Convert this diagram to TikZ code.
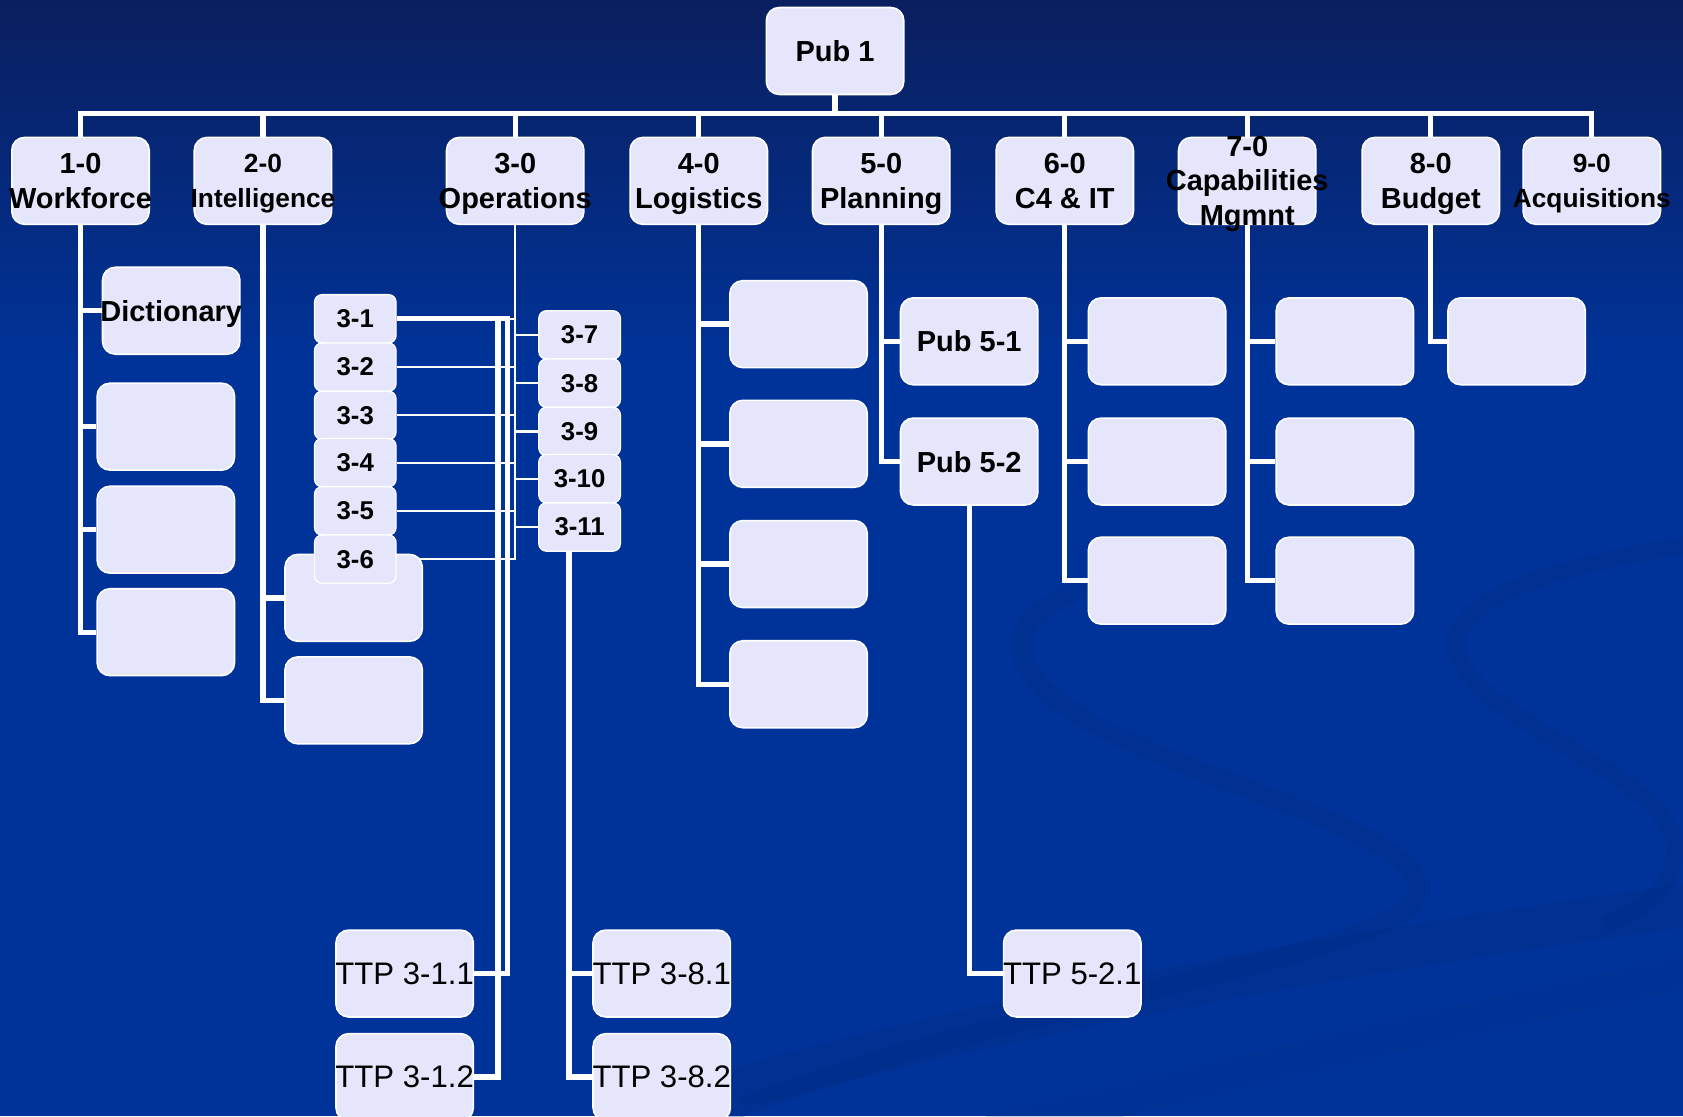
\documentclass[tikz,border=0pt]{standalone}
\usepackage{fontspec}
\setmainfont{Liberation Sans}
\usetikzlibrary{calc}
\pgfdeclarelayer{bgl}
\pgfdeclarelayer{lines}
\pgfsetlayers{bgl,lines,main}
\definecolor{bgtop}{HTML}{0A1F5E}
\definecolor{bgmain}{HTML}{003399}
\definecolor{swirl}{HTML}{002A80}
\definecolor{boxfill}{HTML}{E5E5FC}
\begin{document}
\begin{tikzpicture}[x=1pt,y=-1pt,
  box/.style={draw=white, line width=1.5pt, fill=boxfill, rounded corners=12pt,
    minimum width=128pt, minimum height=81pt, inner sep=0pt},
  sbox/.style={draw=white, line width=1.2pt, fill=boxfill, rounded corners=7pt,
    minimum width=76pt, minimum height=45pt, inner sep=0pt, text=black,
    font=\fontsize{24}{28}\selectfont\bfseries},
  lbl/.style={inner sep=0pt, align=center, text=black, text depth=0pt,
    font=\fontsize{27}{32}\selectfont\bfseries},
  slbl/.style={inner sep=0pt, align=center, text=black, text depth=0pt,
    font=\fontsize{24.5}{32}\selectfont\bfseries},
  tlbl/.style={inner sep=0pt, align=center, text=black, text depth=0pt,
    font=\fontsize{29}{34}\selectfont},
  lab/.style={label={[lbl]center:#1}},
  slab/.style={label={[slbl]center:#1}},
  tlab/.style={label={[tlbl]center:#1}},
  conn/.style={draw=white, line width=5pt},
  thinconn/.style={draw=white, line width=2pt},
  swirlband/.style={draw=swirl, line cap=round, opacity=0.3}
]
\useasboundingbox (0,0) rectangle (1568,1040);

% ---------- nodes (boxes) ----------
\node[box, lab={Pub 1}] (p1) at (778,47.5) {};
\node[box, lab={1-0\\Workforce}] (n1) at (75,168.5) {};
\node[box, slab={2-0\\Intelligence}] (n2) at (245,168.5) {};
\node[box, lab={3-0\\Operations}] (n3) at (480,168.5) {};
\node[box, lab={4-0\\Logistics}] (n4) at (651,168.5) {};
\node[box, lab={5-0\\Planning}] (n5) at (821,168.5) {};
\node[box, lab={6-0\\C4 \& IT}] (n6) at (992,168.5) {};
\node[box, lab={7-0\\Capabilities\\Mgmnt}] (n7) at (1162,168.5) {};
\node[box, lab={8-0\\Budget}] (n8) at (1333,168.5) {};
\node[box, slab={9-0\\Acquisitions}] (n9) at (1483,168.5) {};
% 1-0 children
\node[box, lab={Dictionary}] (w1) at (159.5,289.5) {};
\node[box] (w2) at (154.5,397.5) {};
\node[box] (w3) at (154.5,493.5) {};
\node[box] (w4) at (154.5,589) {};
% 2-0 children
\node[box] (i1) at (329.5,557) {};
\node[box] (i2) at (329.5,652.5) {};
% 4-0 children
\node[box] (l1) at (744,302) {};
\node[box] (l2) at (744,413.5) {};
\node[box] (l3) at (744,525.5) {};
\node[box] (l4) at (744,637.5) {};
% 5-0 children
\node[box, lab={Pub 5-1}] (q1) at (903,318) {};
\node[box, lab={Pub 5-2}] (q2) at (903,430) {};
% 6-0 children
\node[box] (c1) at (1078,318) {};
\node[box] (c2) at (1078,430) {};
\node[box] (c3) at (1078,541) {};
% 7-0 children
\node[box] (m1) at (1253,318) {};
\node[box] (m2) at (1253,430) {};
\node[box] (m3) at (1253,541) {};
% 8-0 child
\node[box] (b1) at (1413,318) {};
% TTP boxes
\node[box, tlab={TTP 3-1.1}] (t311) at (377,907) {};
\node[box, tlab={TTP 3-1.2}] (t312) at (377,1003.5) {};
\node[box, tlab={TTP 3-8.1}] (t381) at (616.5,907) {};
\node[box, tlab={TTP 3-8.2}] (t382) at (616.5,1003.5) {};
\node[box, tlab={TTP 5-2.1}] (t521) at (999,907) {};
% 3-x small boxes
\node[sbox] (s1) at (331,297) {3-1};
\node[sbox] (s2) at (331,342) {3-2};
\node[sbox] (s3) at (331,387) {3-3};
\node[sbox] (s4) at (331,431) {3-4};
\node[sbox] (s5) at (331,476) {3-5};
\node[sbox] (s6) at (331,521) {3-6};
\node[sbox] (s7) at (540,312) {3-7};
\node[sbox] (s8) at (540,357) {3-8};
\node[sbox] (s9) at (540,402) {3-9};
\node[sbox] (s10) at (540,446) {3-10};
\node[sbox] (s11) at (540,491) {3-11};
\coordinate (j1) at (473,297);
\coordinate (j2) at (464,297);

% ---------- background ----------
\begin{pgfonlayer}{bgl}
\shade[top color=bgtop, bottom color=bgmain] (0,0) rectangle (1568,340);
\fill[bgmain] (0,339) rectangle (1568,1040);
\draw[swirlband, line width=18pt] (1060,535) .. controls (960,555) and (900,600) .. (1010,670)
   .. controls (1120,730) and (1300,770) .. (1320,820)
   .. controls (1340,870) and (1150,900) .. (900,965)
   .. controls (800,990) and (700,1030) .. (650,1045);
\draw[swirlband, line width=16pt] (1590,505) .. controls (1420,530) and (1320,570) .. (1370,630)
   .. controls (1420,690) and (1560,730) .. (1560,790)
   .. controls (1560,830) and (1530,845) .. (1500,860);
\draw[swirlband, line width=40pt, opacity=0.25] (700,1010) .. controls (1000,930) and (1300,880) .. (1600,840);
\draw[swirlband, line width=30pt, opacity=0.2] (900,1060) .. controls (1150,1000) and (1400,940) .. (1600,900);
\end{pgfonlayer}

% ---------- connectors ----------
\begin{pgfonlayer}{lines}
\foreach \n in {n1,n2,n3,n4,n5,n6,n7,n8,n9}
  \draw[conn] (p1.south) -- ++(0,17) -| (\n.north);
\foreach \c in {w1,w2,w3,w4}
  \draw[conn] (n1.south) |- (\c.west);
\foreach \c in {i1,i2}
  \draw[conn] (n2.south) |- (\c.west);
\foreach \c in {s1,s2,s3,s4,s5,s6}
  \draw[thinconn] (n3.south) |- (\c.east);
\foreach \c in {s7,s8,s9,s10,s11}
  \draw[thinconn] (n3.south) |- (\c.west);
\draw[conn] (s1.east) -- (j1) |- (t311.east);
\draw[conn] (s1.east) -- (j2) |- (t312.east);
\foreach \c in {t381,t382}
  \draw[conn] (s8.south) ++(-10,0) |- (\c.west);
\foreach \c in {l1,l2,l3,l4}
  \draw[conn] (n4.south) |- (\c.west);
\foreach \c in {q1,q2}
  \draw[conn] (n5.south) |- (\c.west);
\draw[conn] (q2.south) |- (t521.west);
\foreach \c in {c1,c2,c3}
  \draw[conn] (n6.south) |- (\c.west);
\foreach \c in {m1,m2,m3}
  \draw[conn] (n7.south) |- (\c.west);
\draw[conn] (n8.south) |- (b1.west);
\end{pgfonlayer}
\end{tikzpicture}
\end{document}
